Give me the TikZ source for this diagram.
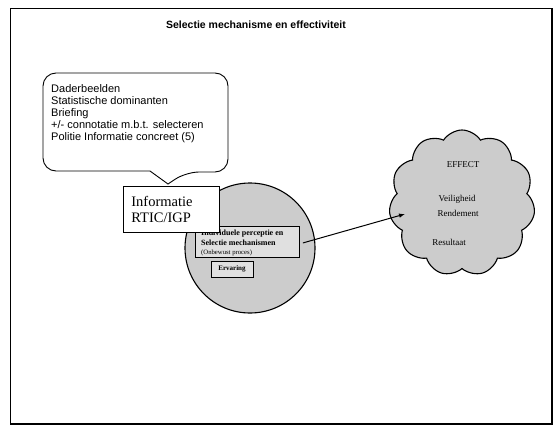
\documentclass[tikz,border=0pt]{standalone}
\usepackage{fontspec}
\setmainfont{Liberation Serif}
\setsansfont{Liberation Sans}
\usetikzlibrary{shapes.symbols,arrows.meta}

\definecolor{stipple}{gray}{0.80}
\definecolor{stipplelight}{gray}{0.88}

\tikzset{
  frameline/.style={line width=1.6pt},
  outline/.style={draw, line width=1.1pt},
  smallbox/.style={draw, line width=0.9pt, fill=stipplelight, inner sep=0pt},
  cloudtext/.style={font=\fontsize{9}{10}\selectfont, inner sep=0pt},
  pointer/.style={line width=1pt, -{Latex[length=6pt,width=4.5pt]}},
}

\begin{document}
\begin{tikzpicture}[x=1pt, y=-1pt]
\useasboundingbox (0,0) rectangle (556,428);

% outer frame
\draw[frameline] (10.5,8.5) rectangle (552,424);

% heading
\node (title) at (256,25)
  {\sffamily\bfseries\fontsize{10.5}{12}\selectfont Selectie mechanisme en effectiviteit};

% speech bubble with the briefing topics
\draw[line width=0.9pt, fill=white]
  (168,184) -- (150,171) [rounded corners=13pt] -- (43,171) -- (43,73)
  -- (228,73) -- (228,172) -- (186,172) [sharp corners] -- cycle;
\node (notes) [anchor=north west, align=left, inner sep=0pt,
  font=\sffamily\fontsize{11}{12}\selectfont] at (51,84)
  {Daderbeelden\\Statistische dominanten\\Briefing\\
   +/- connotatie m.b.t. selecteren\\Politie Informatie concreet (5)};

% the individual officer: round area with its two boxes
\node (pool) [circle, outline, fill=stipple, minimum size=130pt, inner sep=0pt] at (250,248) {};

\node (selection) [smallbox, anchor=north west, minimum width=104pt, minimum height=31pt] at (195,226) {};
\node (selline1) [anchor=base west, inner sep=0pt, font=\bfseries\fontsize{8}{9}\selectfont]
  at (201,235) {Individuele perceptie en};
\node (selline2) [anchor=base west, inner sep=0pt, font=\bfseries\fontsize{8}{9}\selectfont]
  at (201,245) {Selectie mechanismen};
\node (selline3) [anchor=base west, inner sep=0pt, font=\fontsize{6.7}{8}\selectfont]
  at (201,254) {(Onbewust proces)};

\node (experience) [smallbox, minimum width=42pt, minimum height=16pt,
  font=\bfseries\fontsize{7}{8}\selectfont] at (232,269) {Ervaring};

% information source box, on top of the round area
\node (info) [draw, line width=0.8pt, fill=white, anchor=north west,
  minimum width=95pt, minimum height=46pt, text width=80pt, align=left,
  inner xsep=8pt, font=\fontsize{14.5}{15.5}\selectfont] at (123,186)
  {Informatie\\RTIC/IGP};

% outcome cloud
\node (outcome) [cloud, cloud puffs=11, cloud puff arc=115, aspect=1, outline,
  fill=stipple, minimum width=146pt, minimum height=146pt, inner sep=0pt] at (462,203) {};
\node (effect) [cloudtext] at (463,165) {EFFECT};
\node (safety) [cloudtext] at (457,199) {Veiligheid};
\node (yield) [cloudtext] at (458,213) {Rendement};
\node (result) [cloudtext] at (449,242) {Resultaat};

% connector from the selection box into the cloud
\coordinate (arrowtip) at (405,214);
\draw[pointer] (selection.east) ++(3,1) -- (arrowtip);
\end{tikzpicture}
\end{document}
